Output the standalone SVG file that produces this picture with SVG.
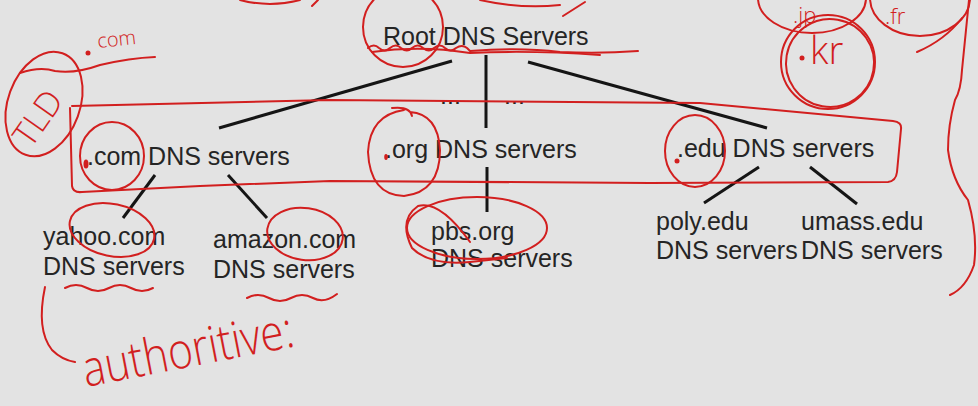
<svg xmlns="http://www.w3.org/2000/svg" width="978" height="406" viewBox="0 0 978 406">
<style>
.t{font-family:"Liberation Sans",Arial,sans-serif;font-size:25px;fill:#252525}
.c{stroke:#151515;stroke-width:3;fill:none;stroke-linecap:butt}
.r{stroke:#d21f1f;stroke-width:2;fill:none;stroke-linecap:round;stroke-linejoin:round}
.rf{fill:#d21f1f}
.h{font-family:"Open Sans","DejaVu Sans",sans-serif;font-weight:300;fill:#d21f1f}
</style>
<rect width="978" height="406" fill="#e3e3e3"/>

<g id="connectors">
<line class="c" x1="452" y1="61" x2="219" y2="128"/>
<line class="c" x1="486" y1="55" x2="486" y2="128"/>
<line class="c" x1="528" y1="62" x2="767" y2="128"/>
<line class="c" x1="155" y1="175" x2="123" y2="218"/>
<line class="c" x1="228" y1="175" x2="267" y2="218"/>
<line class="c" x1="487" y1="167" x2="487" y2="212"/>
<line class="c" x1="759" y1="167" x2="704" y2="203"/>
<line class="c" x1="810" y1="167" x2="857" y2="204"/>
</g>

<g id="root"><text class="t" x="383" y="45" font-size="25.5">Root DNS Servers</text></g>
<g id="ellipsis"><text class="t" x="440" y="104">...</text><text class="t" x="504" y="104">...</text></g>
<g id="tld-com"><text class="t" x="87" y="165">.com DNS servers</text></g>
<g id="tld-org"><text class="t" x="385" y="158">.org DNS servers</text></g>
<g id="tld-edu"><text class="t" x="677" y="157">.edu DNS servers</text></g>
<g id="yahoo"><text class="t" x="43" y="245">yahoo.com</text><text class="t" x="43" y="275">DNS servers</text></g>
<g id="amazon"><text class="t" x="213" y="248">amazon.com</text><text class="t" x="213" y="278">DNS servers</text></g>
<g id="pbs"><text class="t" x="431" y="240">pbs.org</text><text class="t" x="431" y="267">DNS servers</text></g>
<g id="poly"><text class="t" x="656" y="230">poly.edu</text><text class="t" x="656" y="259">DNS servers</text></g>
<g id="umass"><text class="t" x="801" y="230">umass.edu</text><text class="t" x="801" y="259">DNS servers</text></g>

<g id="annotations">
<!-- TLD box -->
<path class="r" d="M70,108 L72,186 Q73,193 82,192 L200,186 L330,181 L650,183 L888,182 Q896,181 897,172 L901,129 Q902,122 893,121 L700,103 L330,100 L72,106"/>
<!-- TLD label -->
<ellipse class="r" cx="44" cy="104" rx="36" ry="54" transform="rotate(20 44 104)"/>
<text class="h" x="38" y="130" font-size="34" text-anchor="middle" transform="rotate(-55 38 118)">TLD</text>
<path class="r" d="M20,73 Q40,66 55,71 Q75,74 100,65 Q130,58 155,57"/>
<circle class="rf" cx="88" cy="53" r="2.5"/>
<text class="h" x="98" y="48" font-size="20" transform="rotate(-6 98 48)">com</text>
<!-- root -->
<ellipse class="r" cx="403" cy="27" rx="40" ry="40"/>
<path class="r" d="M368,48 q6,-5 11,0 q6,5 11,0 q6,-5 11,0 q6,5 11,0 q6,-5 11,0 q6,5 11,0 q6,-5 11,0 q6,5 11,0 q6,-4 11,0 L470,51 Q520,47 560,52 Q600,54 638,51"/>
<path class="r" d="M372,52 Q420,45 470,53 Q530,50 600,55"/>
<path class="r" d="M240,0 Q270,8 300,0"/>
<path class="r" d="M312,6 L318,0"/>
<path class="r" d="M480,0 Q520,9 560,5"/>
<path class="r" d="M563,16 L585,2"/>
<!-- .com / .org / .edu circles -->
<ellipse class="r" cx="112" cy="156" rx="32" ry="34"/>
<ellipse class="rf" cx="86" cy="164" rx="2.5" ry="4.5"/>
<path class="r" d="M392,108 Q410,106 412,116 M404,110 Q370,115 368,152 Q370,195 404,196 Q440,192 440,150 Q438,114 410,112"/>
<ellipse class="rf" cx="386" cy="157" rx="1.8" ry="3"/>
<ellipse class="r" cx="695" cy="151" rx="30" ry="36"/>
<circle class="rf" cx="677" cy="161" r="2.5"/>
<!-- pbs -->
<ellipse class="r" cx="477" cy="228" rx="70" ry="31"/>
<path class="r" d="M470,242 Q440,200 418,206 Q398,220 412,248 Q430,266 470,262 L507,258"/>
<!-- authoritative -->
<ellipse class="r" cx="112" cy="230" rx="43" ry="26" transform="rotate(12 112 230)"/>
<ellipse class="r" cx="305" cy="234" rx="38" ry="26" transform="rotate(8 305 234)"/>
<path class="r" d="M65,288 q11,-6 22,0 q11,6 22,0 q11,-6 22,0 q11,6 22,0"/>
<path class="r" d="M247,298 q11,-6 22,0 q11,6 22,0 q11,-6 22,0 q11,6 24,-4"/>
<path class="r" d="M45,287 Q36,330 52,350 Q62,360 75,362"/>
<text class="h" x="86" y="387" font-size="50" textLength="214" lengthAdjust="spacingAndGlyphs" transform="rotate(-11 86 387)">authoritive:</text>
<!-- country codes -->
<ellipse class="r" cx="828" cy="62" rx="47" ry="47"/>
<ellipse class="r" cx="830" cy="63" rx="44" ry="44" transform="rotate(10 830 63)"/>
<circle class="rf" cx="802" cy="58" r="2.5"/>
<text class="h" x="810" y="64" font-size="38">kr</text>
<ellipse class="r" cx="812" cy="-2" rx="54" ry="35"/>
<text class="h" x="793" y="23" font-size="22">.jp</text>
<ellipse class="r" cx="920" cy="-2" rx="50" ry="38"/>
<text class="h" x="885" y="24" font-size="22">.fr</text>
<path class="r" d="M917,52 Q945,40 962,18"/>
<path class="r" d="M969,0 L962,70 Q961,90 955,100 Q948,125 948,150 Q952,180 968,200 Q978,235 974,265 Q966,288 950,295"/>
</g>
</svg>
